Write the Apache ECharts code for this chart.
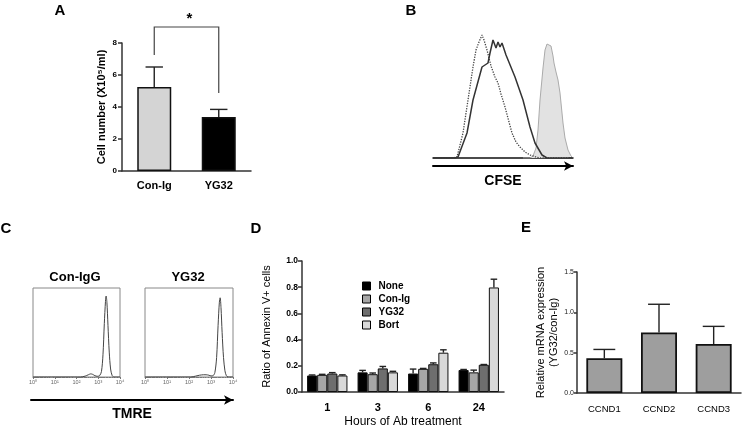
<!DOCTYPE html>
<html><head><meta charset="utf-8">
<script src="https://cdn.jsdelivr.net/npm/echarts@6/dist/echarts.min.js"></script>
<style>html,body{margin:0;padding:0;background:#fff}#c{width:745px;height:429px}</style>
</head><body><div id="c"></div>
<script>
const FONT = 'Liberation Sans, Arial, Helvetica, sans-serif';

// ---- Panel A ----
const aCategories = ['Con-Ig', 'YG32'];
const aValues = [5.25, 3.375];
const aErrTop = [6.5, 3.85];
const aColors = ['#d4d4d4', '#000000'];
const aBracket = { left: 7.25, right: 4.875, top: 9.0 };

// ---- Panel B (channel, count) ----
const bDotted = [[0,0],[20,0],[24,1],[30,25],[35,58],[40,91],[43,108],[46,116],[49,123],[51,118],[54,108],[58,92],[62,81],[65,75],[68,64],[72,51],[76,36],[79,25],[83,16],[87,11],[92,6],[97,3],[103,1],[107,0],[140,0]];
const bSolid = [[0,0],[22,0],[25,1],[34,25],[40,58],[49,91],[55,95],[57,105],[60,118],[63,110],[65,116],[67,111],[69,115],[73,103],[75,101],[82,81],[90,58],[97,31],[102,15],[109,3],[114,0],[140,0]];
const bFilled = [[90,0],[97,0],[100,2],[103,10],[105,28],[107,58],[110,90],[112,108],[114,114],[116,115],[118,112],[120,102],[121,95],[123,86],[125,78],[127,65],[130,35],[132,20],[135,8],[138,2],[140,0]];

// ---- Panel C (TMRE intensity, count) ----
const cTitles = ['Con-IgG', 'YG32'];
const cConIgG = [[1,0],[150,0],[250,1],[350,2.5],[450,3.5],[550,3],[700,1.5],[900,0.8],[1150,1.5],[1400,6],[1650,25],[1900,60],[2150,85],[2300,91],[2500,84],[2800,58],[3200,28],[3700,9],[4300,2],[5200,0],[10000,0]];
const cYG32 = [[1,0],[120,0],[200,1],[300,2],[450,2.5],[600,2.5],[800,2],[1000,1.2],[1250,1.5],[1500,5],[1800,22],[2100,58],[2400,84],[2600,89],[2850,78],[3200,50],[3700,22],[4300,7],[5000,1.5],[6000,0],[10000,0]];
const cSup = ['\u2070','\u00B9','\u00B2','\u00B3','\u2074'];

// ---- Panel D ----
const dHours = ['1', '3', '6', '24'];
const dGroups = ['None', 'Con-Ig', 'YG32', 'Bort'];
const dNone  = [0.126, 0.150, 0.141, 0.168];
const dConIg = [0.131, 0.136, 0.177, 0.150];
const dYG32  = [0.141, 0.180, 0.212, 0.208];
const dBort  = [0.126, 0.150, 0.300, 0.798];
const dNoneErr  = [0.130, 0.165, 0.175, 0.172];
const dConIgErr = [0.135, 0.145, 0.180, 0.167];
const dYG32Err  = [0.148, 0.195, 0.222, 0.210];
const dBortErr  = [0.131, 0.158, 0.322, 0.861];
const dColors = ['#000000', '#a6a6a6', '#6e6e6e', '#d9d9d9'];

// ---- Panel E ----
const eGenes = ['CCND1', 'CCND2', 'CCND3'];
const eValues = [0.43, 0.75, 0.607];
const eErrTop = [0.54, 1.10, 0.826];

function errSeries(name, xi, yi, vals, tops, offsetFrac, capFrac) {
  return {
    type: 'custom', name: name, xAxisIndex: xi, yAxisIndex: yi, z: 5,
    data: vals.map((v, i) => [i, v, tops[i]]),
    encode: { x: 0, y: [1, 2] },
    renderItem: function (params, api) {
      const idx = api.value(0);
      const base = api.coord([idx, api.value(1)]);
      const top = api.coord([idx, api.value(2)]);
      const band = api.size([1, 0])[0];
      const x = base[0] + offsetFrac * band;
      const cap = capFrac * band / 2;
      const st = { stroke: '#222', lineWidth: 1.4 };
      return { type: 'group', children: [
        { type: 'line', shape: { x1: x, y1: base[1], x2: x, y2: top[1] }, style: st },
        { type: 'line', shape: { x1: x - cap, y1: top[1], x2: x + cap, y2: top[1] }, style: st }
      ]};
    }
  };
}

const axisLineStyle = { color: '#333', width: 1.5 };
const hidden = { show: false };

const dSeriesVals = [dNone, dConIg, dYG32, dBort];
const dSeriesErr = [dNoneErr, dConIgErr, dYG32Err, dBortErr];

const series = [];
series.push({
  type: 'bar', name: 'A', xAxisIndex: 0, yAxisIndex: 0, barWidth: 34,
  data: aValues.map((v, i) => ({ value: v, itemStyle: { color: aColors[i] } })),
  itemStyle: { borderColor: '#111', borderWidth: 1.5 }
});
series.push(errSeries('Aerr', 0, 0, aValues, aErrTop, 0, 0.27));
series.push({
  type: 'custom', name: 'Abracket', xAxisIndex: 0, yAxisIndex: 0, clip: false, z: 6,
  data: [[0, aBracket.top]], encode: { x: 0, y: 1 },
  renderItem: function (params, api) {
    const p1 = api.coord([0, aBracket.left]);
    const p2 = api.coord([0, aBracket.top]);
    const p3 = api.coord([1, aBracket.top]);
    const p4 = api.coord([1, aBracket.right]);
    return { type: 'group', children: [
      { type: 'polyline', shape: { points: [p1, p2, p3, p4] }, style: { stroke: '#444', lineWidth: 1.2, fill: null } },
      { type: 'text', x: (p2[0] + p3[0]) / 2 + 3, y: p2[1] - 8, style: { text: '*', font: 'bold 15px ' + FONT, fill: '#000', align: 'center', verticalAlign: 'middle' } }
    ]};
  }
});
series.push({ type: 'line', name: 'Bfill', xAxisIndex: 1, yAxisIndex: 1, data: bFilled, showSymbol: false,
  lineStyle: { color: '#aaaaaa', width: 1 }, areaStyle: { color: '#e2e2e2', opacity: 1 } });
series.push({ type: 'line', name: 'Bdot', xAxisIndex: 1, yAxisIndex: 1, data: bDotted, showSymbol: false,
  lineStyle: { color: '#444', width: 1.3, type: 'dotted' } });
series.push({ type: 'line', name: 'Bsolid', xAxisIndex: 1, yAxisIndex: 1, data: bSolid, showSymbol: false,
  lineStyle: { color: '#333', width: 1.5 } });
series.push({ type: 'line', name: 'C1', xAxisIndex: 3, yAxisIndex: 3, data: cConIgG, showSymbol: false, smooth: 0.3,
  lineStyle: { color: '#444', width: 1 } });
series.push({ type: 'line', name: 'C2', xAxisIndex: 4, yAxisIndex: 4, data: cYG32, showSymbol: false, smooth: 0.3,
  lineStyle: { color: '#444', width: 1 } });
dGroups.forEach((g, k) => {
  series.push({
    type: 'bar', name: g, xAxisIndex: 6, yAxisIndex: 6, barGap: '0%', barCategoryGap: '20%',
    data: dSeriesVals[k], itemStyle: { color: dColors[k], borderColor: '#111', borderWidth: 1 }
  });
});
dGroups.forEach((g, k) => {
  series.push(errSeries('Derr' + k, 6, 6, dSeriesVals[k], dSeriesErr[k], (-1.5 + k) * 0.2, 0.13));
});
series.push({
  type: 'bar', name: 'E', xAxisIndex: 7, yAxisIndex: 7, barWidth: 36,
  data: eValues, itemStyle: { color: '#9e9e9e', borderColor: '#111', borderWidth: 1.8 }
});
series.push(errSeries('Eerr', 7, 7, eValues, eErrTop, 0, 0.4));

const logLabel = v => '10' + cSup[Math.round(Math.log10(v))];
function cXAxis(gi) {
  return {
    gridIndex: gi, type: 'log', logBase: 10, min: 1, max: 10000, splitNumber: 4,
    axisLine: { show: true, lineStyle: { color: '#777', width: 1 } },
    axisTick: { show: true, length: 2, lineStyle: { color: '#777' } },
    minorTick: { show: true, splitNumber: 9, length: 1, lineStyle: { color: '#999' } },
    axisLabel: { fontSize: 5.5, color: '#666', margin: 2, formatter: logLabel, fontFamily: FONT },
    splitLine: hidden
  };
}

const option = {
  animation: false,
  backgroundColor: '#ffffff',
  textStyle: { fontFamily: FONT },
  grid: [
    { left: 122, top: 43, width: 129, height: 128 },
    { left: 433, top: 30, width: 140, height: 128 },
    { left: 433, top: 30, width: 140, height: 128 },
    { left: 33, top: 288, width: 87, height: 89, show: true, borderColor: '#888', borderWidth: 1 },
    { left: 145, top: 288, width: 88, height: 89, show: true, borderColor: '#888', borderWidth: 1 },
    { left: 31, top: 399, width: 202, height: 1 },
    { left: 302, top: 261, width: 202, height: 132 },
    { left: 577, top: 272, width: 164, height: 121 }
  ],
  xAxis: [
    { gridIndex: 0, type: 'category', data: aCategories,
      axisLine: { lineStyle: axisLineStyle }, axisTick: { alignWithLabel: true, length: 4, lineStyle: axisLineStyle },
      axisLabel: { fontSize: 11, fontWeight: 'bold', color: '#000', margin: 9 } },
    { gridIndex: 1, type: 'value', min: 0, max: 140,
      axisLine: { show: true, onZero: false, lineStyle: { color: '#111', width: 1.5 } }, axisTick: hidden, axisLabel: hidden, splitLine: hidden },
    { gridIndex: 2, type: 'value', min: 0, max: 1, position: 'bottom', offset: 8,
      axisLine: { show: true, onZero: false, symbol: ['none', 'arrow'], symbolSize: [7, 9], lineStyle: { color: '#000', width: 2 } },
      axisTick: hidden, axisLabel: hidden, splitLine: hidden,
      name: 'CFSE', nameLocation: 'middle', nameGap: 8, nameTextStyle: { fontSize: 14, fontWeight: 'bold', color: '#000', verticalAlign: 'top' } },
    cXAxis(3),
    cXAxis(4),
    { gridIndex: 5, type: 'value', min: 0, max: 1,
      axisLine: { show: true, onZero: false, symbol: ['none', 'arrow'], symbolSize: [7, 9], lineStyle: { color: '#000', width: 2 } },
      axisTick: hidden, axisLabel: hidden, splitLine: hidden,
      name: 'TMRE', nameLocation: 'middle', nameGap: 7, nameTextStyle: { fontSize: 14, fontWeight: 'bold', color: '#000', verticalAlign: 'top' } },
    { gridIndex: 6, type: 'category', data: dHours,
      axisLine: { lineStyle: axisLineStyle }, axisTick: { alignWithLabel: true, length: 4, lineStyle: axisLineStyle },
      axisLabel: { fontSize: 11, fontWeight: 'bold', color: '#000', margin: 10 },
      name: 'Hours of Ab treatment', nameLocation: 'middle', nameGap: 24,
      nameTextStyle: { fontSize: 12, color: '#000', verticalAlign: 'top' } },
    { gridIndex: 7, type: 'category', data: eGenes,
      axisLine: { lineStyle: axisLineStyle }, axisTick: { alignWithLabel: true, length: 4, lineStyle: axisLineStyle },
      axisLabel: { fontSize: 9.5, color: '#000', margin: 11 } }
  ],
  yAxis: [
    { gridIndex: 0, type: 'value', min: 0, max: 8, interval: 2,
      axisLine: { show: true, lineStyle: axisLineStyle }, axisTick: { show: true, length: 4, lineStyle: axisLineStyle },
      axisLabel: { fontSize: 8, fontWeight: 'bold', color: '#000', margin: 5 }, splitLine: hidden,
      name: 'Cell number (X10\u2075/ml)', nameLocation: 'middle', nameGap: 15,
      nameTextStyle: { fontSize: 11, fontWeight: 'bold', color: '#000' } },
    { gridIndex: 1, type: 'value', min: 0, max: 128, show: false },
    { gridIndex: 2, type: 'value', min: 0, max: 1, show: false },
    { gridIndex: 3, type: 'value', min: 0, max: 100, show: false },
    { gridIndex: 4, type: 'value', min: 0, max: 100, show: false },
    { gridIndex: 5, type: 'value', min: 0, max: 1, show: false },
    { gridIndex: 6, type: 'value', min: 0, max: 1, interval: 0.2,
      axisLine: { show: true, lineStyle: axisLineStyle }, axisTick: { show: true, length: 4, lineStyle: axisLineStyle },
      axisLabel: { fontSize: 8.5, fontWeight: 'bold', color: '#000', margin: 4, formatter: v => v.toFixed(1) }, splitLine: hidden,
      name: 'Ratio of Annexin V+ cells', nameLocation: 'middle', nameGap: 30,
      nameTextStyle: { fontSize: 11, color: '#000' } },
    { gridIndex: 7, type: 'value', min: 0, max: 1.5, interval: 0.5,
      axisLine: { show: true, lineStyle: axisLineStyle }, axisTick: { show: true, length: 3, lineStyle: axisLineStyle },
      axisLabel: { fontSize: 7, color: '#222', margin: 3, formatter: v => v.toFixed(1) }, splitLine: hidden,
      name: 'Relative mRNA expression\n(YG32/con-Ig)', nameLocation: 'middle', nameGap: 9,
      nameTextStyle: { fontSize: 11, color: '#000', lineHeight: 13 } }
  ],
  legend: {
    data: dGroups, orient: 'vertical', left: 357, top: 276,
    itemWidth: 8, itemHeight: 8, itemGap: 3, icon: 'rect',
    itemStyle: { borderColor: '#000', borderWidth: 1 },
    textStyle: { fontSize: 10, fontWeight: 'bold', color: '#000', padding: [0, 0, 0, 3] }
  },
  graphic: [
    { type: 'text', x: 60, y: 11, style: { text: 'A', font: 'bold 15px ' + FONT, fill: '#000', align: 'center', verticalAlign: 'middle' } },
    { type: 'text', x: 411, y: 11, style: { text: 'B', font: 'bold 15px ' + FONT, fill: '#000', align: 'center', verticalAlign: 'middle' } },
    { type: 'text', x: 6, y: 229, style: { text: 'C', font: 'bold 15px ' + FONT, fill: '#000', align: 'center', verticalAlign: 'middle' } },
    { type: 'text', x: 256, y: 229, style: { text: 'D', font: 'bold 15px ' + FONT, fill: '#000', align: 'center', verticalAlign: 'middle' } },
    { type: 'text', x: 526, y: 228, style: { text: 'E', font: 'bold 15px ' + FONT, fill: '#000', align: 'center', verticalAlign: 'middle' } },
    { type: 'text', x: 75, y: 277, style: { text: cTitles[0], font: 'bold 13px ' + FONT, fill: '#000', align: 'center', verticalAlign: 'middle' } },
    { type: 'text', x: 188, y: 277, style: { text: cTitles[1], font: 'bold 13px ' + FONT, fill: '#000', align: 'center', verticalAlign: 'middle' } }
  ],
  series: series
};

const chart = echarts.init(document.getElementById('c'), null, { renderer: 'canvas' });
chart.setOption(option);
</script>
</body></html>
